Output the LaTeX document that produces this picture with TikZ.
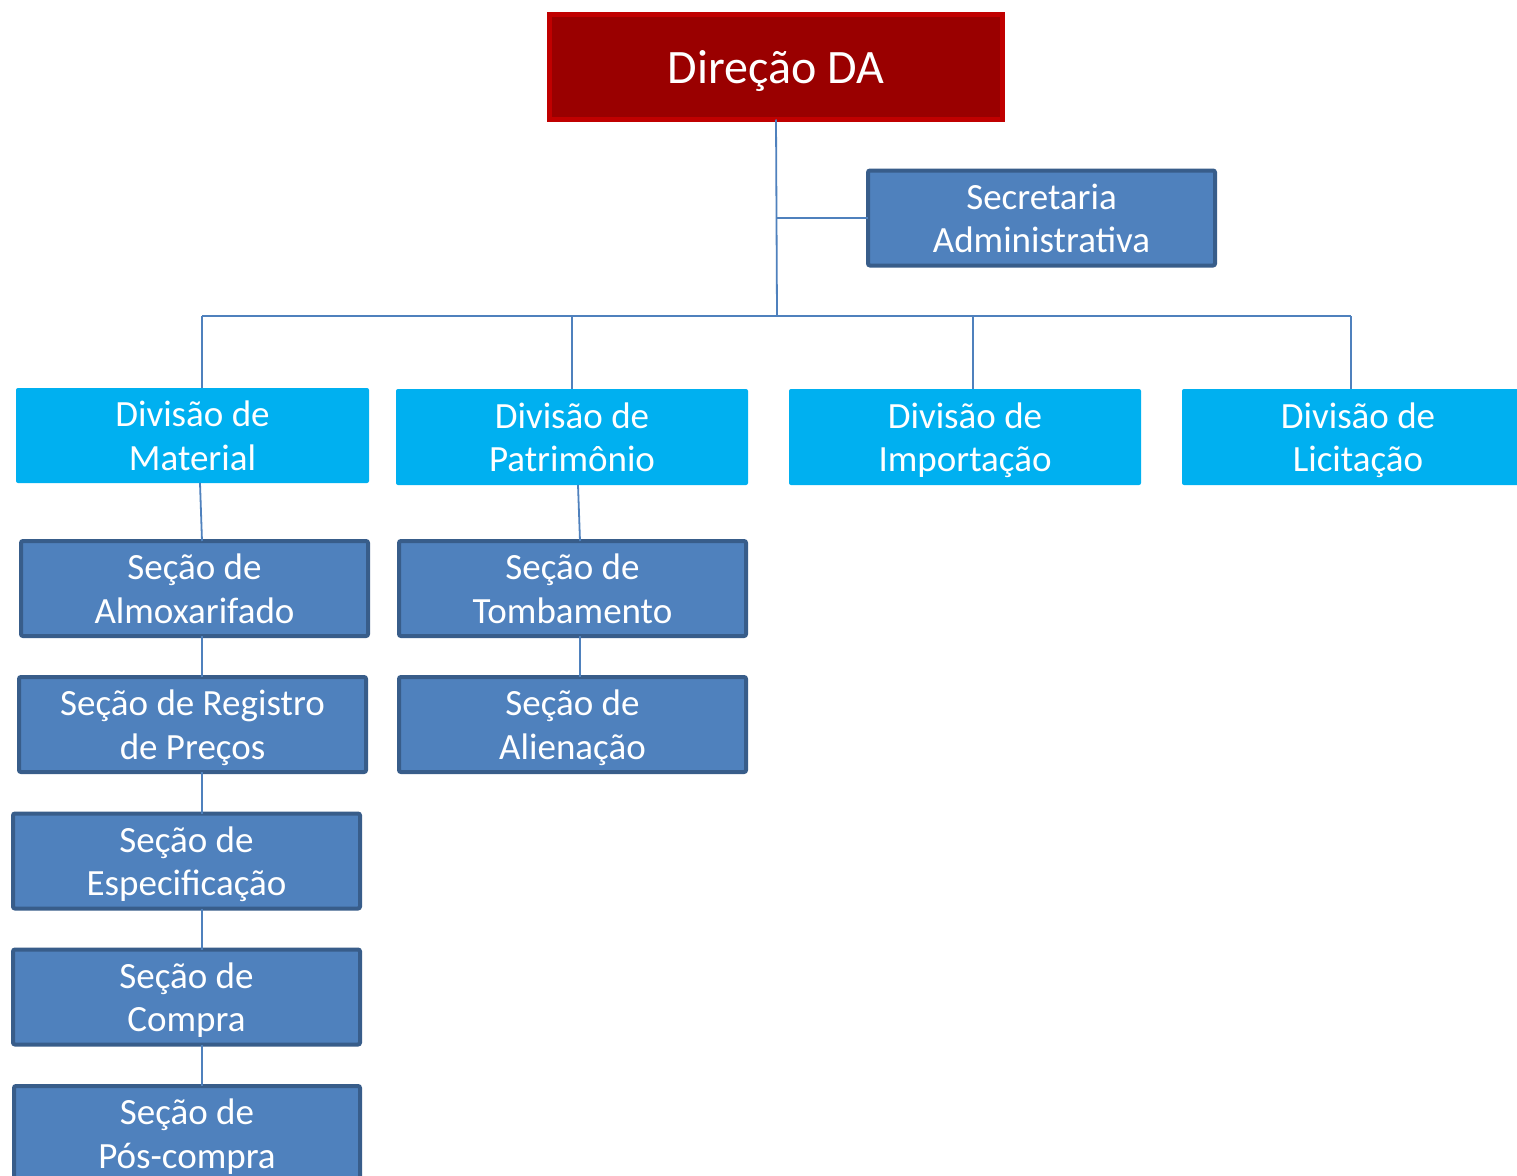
\documentclass[tikz,border=0pt]{standalone}
\usepackage{fontspec}
\setmainfont{Carlito}
\definecolor{topfill}{HTML}{9A0000}
\definecolor{topline}{HTML}{C00000}
\definecolor{secfill}{HTML}{4F81BD}
\definecolor{secline}{HTML}{385D8A}
\definecolor{divfill}{HTML}{00B0F0}
\definecolor{conn}{HTML}{4F81BD}
\newcommand\twolines[2]{\rule{0pt}{38.7pt}#1\\#2\rule[-13pt]{0pt}{13pt}}
\begin{document}
\begin{tikzpicture}[x=1pt,y=-1pt,
  base/.style={text=white, align=center, inner sep=0pt, outer sep=0pt, rounded corners=2pt,
    font=\fontsize{37}{43.3}\selectfont},
  topbox/.style={base, fill=topfill, draw=topline, line width=5pt,
    minimum width=453pt, minimum height=105pt, rounded corners=0pt, font=\fontsize{48}{52}\selectfont},
  secbox/.style={base, fill=secfill, draw=secline, line width=4pt,
    minimum width=347pt, minimum height=89pt},
  divbox/.style={base, fill=divfill, minimum width=352pt, minimum height=96pt},
  link/.style={draw=conn, line width=1.8pt}]
\useasboundingbox (0,0) rectangle (1517,1175);
\clip (0,0) rectangle (1517,1175);
\fill[white] (0,0) rectangle (1517,1175);

\node[topbox] (dir) at (776,67) {\rule[-10pt]{0pt}{52pt}Direção DA};
\node[secbox, minimum height=90pt] (sec) at (1041.5,218) {\twolines{Secretaria}{Administrativa}};

\node[divbox, minimum width=353pt, minimum height=95pt] (divM) at (192.5,435.5) {\twolines{Divisão de}{Material}};
\node[divbox] (divP) at (572,437) {\twolines{Divisão de}{Patrimônio}};
\node[divbox] (divI) at (965,437) {\twolines{Divisão de}{Importação}};
\node[divbox] (divL) at (1358,437) {\twolines{Divisão de}{Licitação}};

\node[secbox] (almox) at (194.5,588.5) {\twolines{Seção de}{Almoxarifado}};
\node[secbox] (tomb) at (572.5,588.5) {\twolines{Seção de}{Tombamento}};
\node[secbox] (reg) at (192.5,724.5) {\twolines{Seção de Registro}{de Preços}};
\node[secbox] (alien) at (572.5,724.5) {\twolines{Seção de}{Alienação}};
\node[secbox, minimum height=88pt] (espec) at (186.5,861) {\twolines{Seção de}{Especificação}};
\node[secbox, minimum height=88pt] (compra) at (186.5,997) {\twolines{Seção de}{Compra}};
\node[secbox, minimum width=346pt] (pos) at (187,1133.5) {\twolines{Seção de}{Pós-compra}};

\coordinate (bus) at (777,316);
\coordinate (sj) at (777,218);
\coordinate (bM) at (202,316);
\coordinate (bP) at (572,316);
\coordinate (bI) at (973,316);
\coordinate (bL) at (1351,316);
\coordinate (xl) at (202,0);
\coordinate (xp) at (580,0);

\draw[link] (dir.south) -- (bus);
\draw[link] (sj) -- (sec.west);
\draw[link] (bM) -- (bL);
\draw[link] (bM) -- (bM |- divM.north);
\draw[link] (bP) -- (bP |- divP.north);
\draw[link] (bI) -- (bI |- divI.north);
\draw[link] (bL) -- (bL |- divL.north);

\draw[link] ([xshift=7.5pt]divM.south) -- ([xshift=7.5pt]almox.north);
\draw[link] ([xshift=6pt]divP.south) -- ([xshift=7.5pt]tomb.north);
\draw[link] (almox.south -| xl) -- (reg.north -| xl);
\draw[link] (reg.south -| xl) -- (espec.north -| xl);
\draw[link] (espec.south -| xl) -- (compra.north -| xl);
\draw[link] (compra.south -| xl) -- (pos.north -| xl);
\draw[link] (tomb.south -| xp) -- (alien.north -| xp);
\end{tikzpicture}
\end{document}
